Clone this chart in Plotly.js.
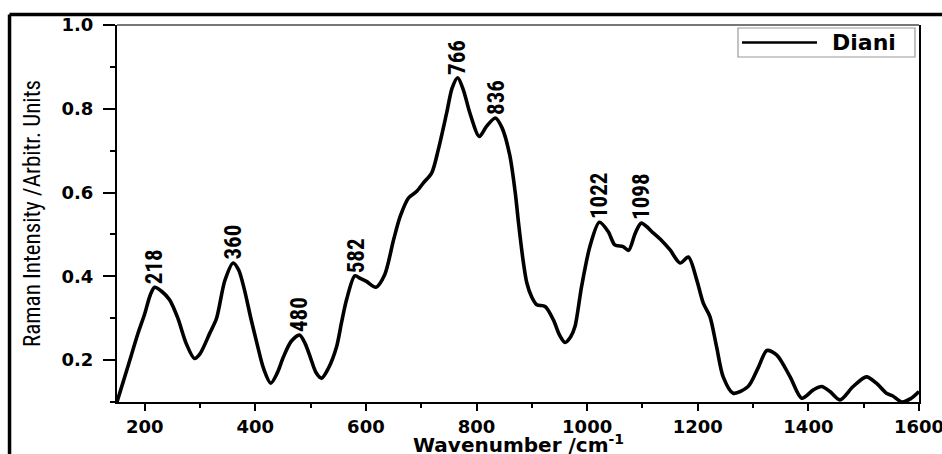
<!DOCTYPE html>
<html>
<head>
<meta charset="utf-8">
<script src="https://cdn.plot.ly/plotly-3.0.1.min.js"></script>
<style>
html,body{margin:0;padding:0;background:#fff;}
#chart{width:942px;height:454px;}
</style>
</head>
<body>
<div id="chart"></div>
<script>
// Raman spectrum (wavenumber in cm^-1, intensity in arbitrary units)
const wavenumber = [150,170,188,200,210,218,230,245,260,275,290,300,318,330,345,360,370,380,392,403,415,428,440,451,465,480,490,500,510,520,532,547,556,565,580,590,601,618,634,650,662,677,692,704,719,731,746,756,766,776,788,805,818,834,846,860,870,876,884,891,900,909,924,939,950,960,970,978,990,1005,1022,1038,1050,1065,1075,1087,1098,1120,1135,1150,1168,1183,1198,1210,1222,1234,1246,1264,1291,1310,1325,1343,1367,1388,1409,1424,1439,1457,1481,1505,1523,1541,1552,1569,1585,1600];
const intensity = [0.100,0.186,0.264,0.310,0.355,0.374,0.365,0.344,0.300,0.240,0.204,0.215,0.265,0.300,0.390,0.432,0.415,0.370,0.300,0.240,0.180,0.145,0.170,0.208,0.245,0.260,0.240,0.205,0.170,0.157,0.180,0.232,0.290,0.344,0.401,0.395,0.388,0.374,0.404,0.487,0.543,0.587,0.603,0.623,0.647,0.703,0.790,0.850,0.874,0.846,0.790,0.734,0.758,0.778,0.755,0.690,0.600,0.527,0.440,0.384,0.350,0.332,0.328,0.296,0.260,0.242,0.255,0.280,0.376,0.471,0.529,0.507,0.475,0.471,0.462,0.503,0.527,0.503,0.485,0.463,0.432,0.446,0.392,0.336,0.304,0.232,0.160,0.121,0.137,0.184,0.223,0.212,0.160,0.109,0.129,0.137,0.125,0.105,0.137,0.160,0.145,0.121,0.115,0.100,0.108,0.125];
const seriesName = "Diani";
const peakPositions = [218,360,480,582,766,836,1022,1098];
const peakIntensity = [0.374,0.432,0.260,0.401,0.874,0.778,0.529,0.527];
const peakLabels = ["218","360","480","582","766","836","1022","1098"];
const xTitle = "Wavenumber /cm<sup>-1</sup>";
const yTitle = "Raman Intensity /Arbitr. Units";

const narrow = "'Liberation Sans Narrow','Arial Narrow','Roboto Condensed',Roboto,sans-serif";
const wide = "'DejaVu Sans',Verdana,sans-serif";

const trace = {
  x: wavenumber, y: intensity, type: 'scatter', mode: 'lines', name: seriesName,
  line: {color: '#000', width: 3.6, shape: 'spline', smoothing: 0.8},
  showlegend: false
};

const annotations = peakPositions.map((p, i) => ({
  x: p, y: peakIntensity[i], xref: 'x', yref: 'y', text: peakLabels[i],
  showarrow: false, textangle: -90, xanchor: 'center', yanchor: 'bottom', yshift: 1,
  font: {family: narrow, size: 23, color: '#000', weight: 'bold'}
}));

// x-axis title, placed below the tick labels
annotations.push({
  x: 0.5, y: -0.072, xref: 'paper', yref: 'paper', text: xTitle,
  showarrow: false, xanchor: 'center', yanchor: 'top',
  font: {family: wide, size: 20, color: '#000', weight: 'bold'}
});

// legend drawn by hand (box, line sample, label)
annotations.push({
  x: 0.889, y: 0.9536, xref: 'paper', yref: 'paper', text: seriesName,
  showarrow: false, xanchor: 'left', yanchor: 'middle',
  font: {family: wide, size: 22, color: '#000', weight: 'bold'}
});

const layout = {
  width: 942, height: 454,
  margin: {l: 117, r: 23, t: 25, b: 52},
  paper_bgcolor: '#fff', plot_bgcolor: '#fff',
  showlegend: false,
  xaxis: {
    range: [150, 1600], tick0: 0, dtick: 200,
    showgrid: false, zeroline: false,
    showline: true, linecolor: '#000', linewidth: 2, mirror: false,
    ticks: 'outside', ticklen: 7, tickwidth: 2, tickcolor: '#000',
    ticklabeloverflow: 'allow',
    minor: {ticks: 'outside', dtick: 100, ticklen: 4, tickwidth: 2, tickcolor: '#000', showgrid: false},
    tickfont: {family: wide, size: 18, color: '#000', weight: 'bold'}
  },
  yaxis: {
    range: [0.1, 1.0], tick0: 0, dtick: 0.2, tickformat: '.1f',
    showgrid: false, zeroline: false,
    showline: true, linecolor: '#000', linewidth: 2, mirror: true,
    ticks: 'outside', ticklen: 12, tickwidth: 2, tickcolor: '#000',
    ticklabelstandoff: 6,
    minor: {ticks: 'outside', dtick: 0.1, ticklen: 5, tickwidth: 2, tickcolor: '#000', showgrid: false},
    tickfont: {family: wide, size: 18, color: '#000', weight: 'bold'},
    title: {text: yTitle, font: {family: narrow, size: 23, color: '#000'}, standoff: 14}
  },
  annotations: annotations,
  shapes: [
    // top axis (grey)
    {type: 'line', xref: 'paper', yref: 'paper', x0: 0, x1: 1, y0: 1, y1: 1, line: {color: '#777', width: 2}},
    // outer frame
    {type: 'line', xref: 'paper', yref: 'paper', x0: -0.134, x1: 1.2, y0: 1.028, y1: 1.028, line: {color: '#000', width: 3.5}},
    {type: 'line', xref: 'paper', yref: 'paper', x0: -0.134, x1: -0.134, y0: 1.028, y1: -0.3, line: {color: '#000', width: 3.5}},
    // legend box and line sample
    {type: 'rect', xref: 'paper', yref: 'paper', x0: 0.7743, x1: 0.995, y0: 0.9151, y1: 0.992, line: {color: '#999', width: 1.2}, fillcolor: '#fff', layer: 'above'},
    {type: 'line', xref: 'paper', yref: 'paper', x0: 0.7793, x1: 0.8728, y0: 0.9536, y1: 0.9536, line: {color: '#000', width: 2.5}, layer: 'above'}
  ]
};

Plotly.newPlot('chart', [trace], layout, {displayModeBar: false, staticPlot: true});
</script>
</body>
</html>
